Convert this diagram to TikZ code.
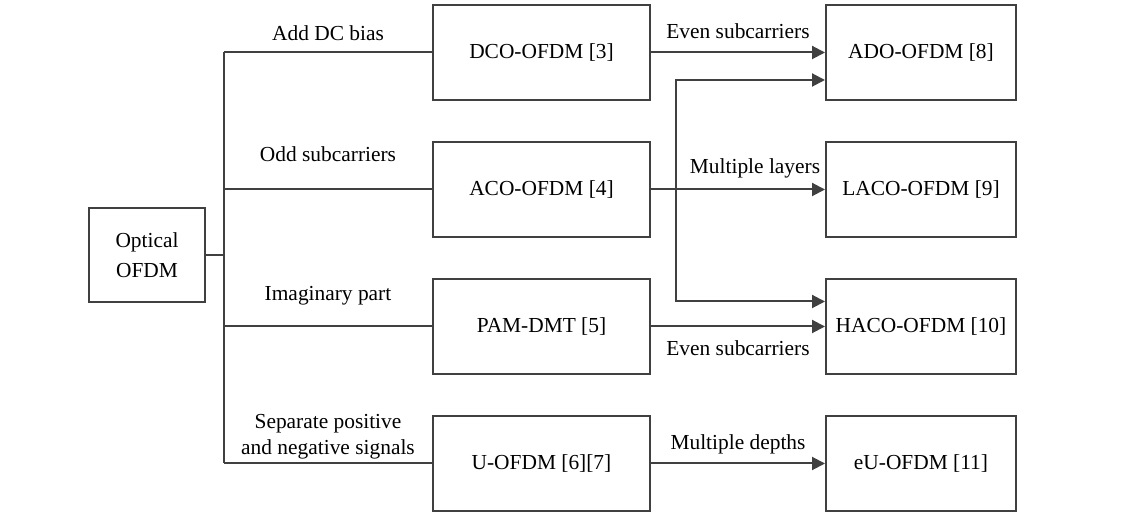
\documentclass[tikz,border=0pt]{standalone}
\usepackage{fontspec}
\setmainfont{Liberation Serif}
\usetikzlibrary{positioning,arrows.meta,calc}
\definecolor{linegray}{HTML}{404040}

\begin{document}
\begin{tikzpicture}[x=0.5pt, y=-0.5pt,
  box/.style = {rectangle, draw = linegray, line width = 1pt, minimum height = 47.5pt, align = center, font = \fontsize{10.7}{15}\selectfont},
  wide/.style = {box, minimum width = 108.5pt},
  narrow/.style = {box, minimum width = 95pt},
  link/.style = {draw = linegray, line width = 1pt},
  arrow/.style = {link, -{Triangle[length = 6.5pt, width = 6.5pt]}},
  lbl/.style = {font = \fontsize{10.7}{13}\selectfont, align = center, inner sep = 0pt, text depth = 0pt}]
\useasboundingbox (0,0) rectangle (1140,512);

\node[box, minimum width = 58pt, minimum height = 47pt] (optical) at (147,255) {Optical\\OFDM};
\node[wide] (dco) at (541.5,52.5) {DCO-OFDM [3]};
\node[wide, below = 20pt of dco] (aco) {ACO-OFDM [4]};
\node[wide, below = 20pt of aco] (pam) {PAM-DMT [5]};
\node[wide, below = 20pt of pam] (uofdm) {U-OFDM [6][7]};
\node[narrow, right = 87pt of dco] (ado) {ADO-OFDM [8]};
\node[narrow, right = 87pt of aco] (laco) {LACO-OFDM [9]};
\node[narrow, right = 87pt of pam] (haco) {HACO-OFDM [10]};
\node[narrow, right = 87pt of uofdm] (euofdm) {eU-OFDM [11]};

\coordinate[right = 9pt of optical] (trunk);
\coordinate (split) at ($(aco.east)+(25,0)$);

\draw[link] (optical) -- (trunk);
\draw[link] (trunk |- dco.west) -- (trunk |- uofdm.west);
\draw[link] (trunk |- dco.west) -- node[lbl, above = 5.5pt] {Add DC bias} (dco.west);
\draw[link] (trunk |- aco.west) -- node[lbl, above = 13.5pt] {Odd subcarriers} (aco.west);
\draw[link] (trunk |- pam.west) -- node[lbl, above = 12.5pt] {Imaginary part} (pam.west);
\draw[link] (trunk |- uofdm.west) -- node[lbl, above = 4pt] {Separate positive\\and negative signals} (uofdm.west);

\draw[arrow] (dco) -- node[lbl, above = 6.5pt] {Even subcarriers} (ado);
\draw[arrow] (aco) -- node[lbl, above = 7.5pt, xshift = 8.5pt] {Multiple layers} (laco);
\draw[arrow] (pam) -- node[lbl, below = 6.5pt] {Even subcarriers} (haco);
\draw[arrow] (uofdm) -- node[lbl, above = 6.5pt] {Multiple depths} (euofdm);
\draw[arrow] (split) |- ($(ado.west)+(0,27.5)$);
\draw[arrow] (split) |- ($(haco.west)+(0,-25)$);
\end{tikzpicture}
\end{document}
